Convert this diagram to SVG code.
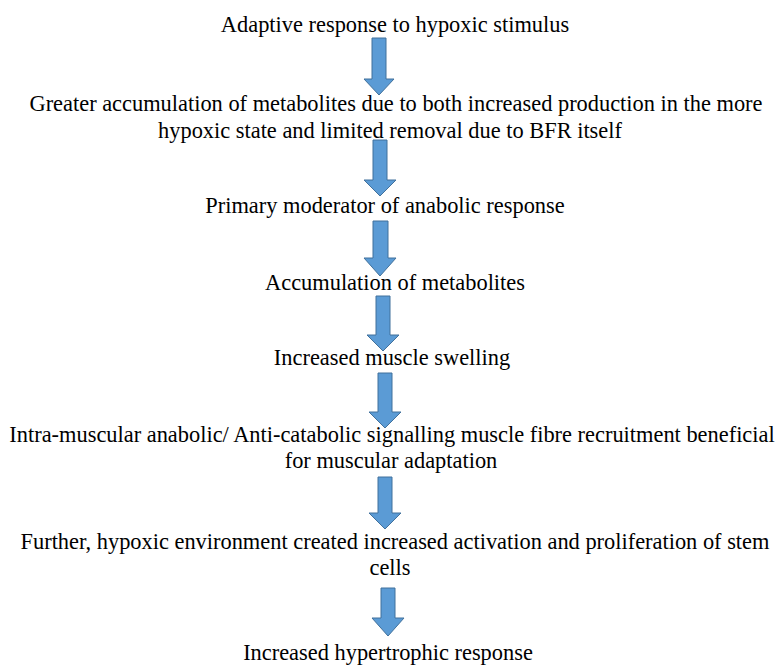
<svg xmlns="http://www.w3.org/2000/svg" width="780" height="666" viewBox="0 0 780 666">
<defs>
<style>
.a{fill:#5B9BD5;stroke:#41719C;stroke-width:1}
</style>
</defs>
<rect width="780" height="666" fill="#fff"/>
<g id="connectors">
<path class="a" d="M372,38 H386 V79 H394 L379,95 L364,79 H372 Z"/>
<path class="a" d="M373,140 H387 V180 H396 L380,196 L364,180 H373 Z"/>
<path class="a" d="M373,221 H388 V258 H396 L380,276 L364,258 H373 Z"/>
<path class="a" d="M376,296 H390 V335 H399 L383,351 L367,335 H376 Z"/>
<path class="a" d="M378,373 H392 V412 H401 L385,428 L369,412 H378 Z"/>
<path class="a" d="M378,477 H392 V513 H401 L385,529 L369,513 H378 Z"/>
<path class="a" d="M381,588 H395 V618 H404 L388,636 L372,618 H381 Z"/>
</g>
<g id="n1"><text x="395" y="32" style="font-family:'Liberation Serif',serif;font-size:22.4px" text-anchor="middle">Adaptive response to hypoxic stimulus</text></g>
<g id="n2"><text x="396" y="111" style="font-family:'Liberation Serif',serif;font-size:22.4px" text-anchor="middle">Greater accumulation of metabolites due to both increased production in the more</text><text x="390" y="138" style="font-family:'Liberation Serif',serif;font-size:22.4px" text-anchor="middle">hypoxic state and limited removal due to BFR itself</text></g>
<g id="n3"><text x="385" y="213" style="font-family:'Liberation Serif',serif;font-size:22.4px" text-anchor="middle">Primary moderator of anabolic response</text></g>
<g id="n4"><text x="395" y="290" style="font-family:'Liberation Serif',serif;font-size:22.4px" text-anchor="middle">Accumulation of metabolites</text></g>
<g id="n5"><text x="392" y="365" style="font-family:'Liberation Serif',serif;font-size:22.4px" text-anchor="middle">Increased muscle swelling</text></g>
<g id="n6"><text x="392" y="442" style="font-family:'Liberation Serif',serif;font-size:22.4px" text-anchor="middle">Intra-muscular anabolic/ Anti-catabolic signalling muscle fibre recruitment beneficial</text><text x="391" y="468" style="font-family:'Liberation Serif',serif;font-size:22.4px" text-anchor="middle">for muscular adaptation</text></g>
<g id="n7"><text x="395" y="549" style="font-family:'Liberation Serif',serif;font-size:22.4px" text-anchor="middle">Further, hypoxic environment created increased activation and proliferation of stem</text><text x="390" y="575" style="font-family:'Liberation Serif',serif;font-size:22.4px" text-anchor="middle">cells</text></g>
<g id="n8"><text x="388" y="660" style="font-family:'Liberation Serif',serif;font-size:22.4px" text-anchor="middle">Increased hypertrophic response</text></g>
</svg>
